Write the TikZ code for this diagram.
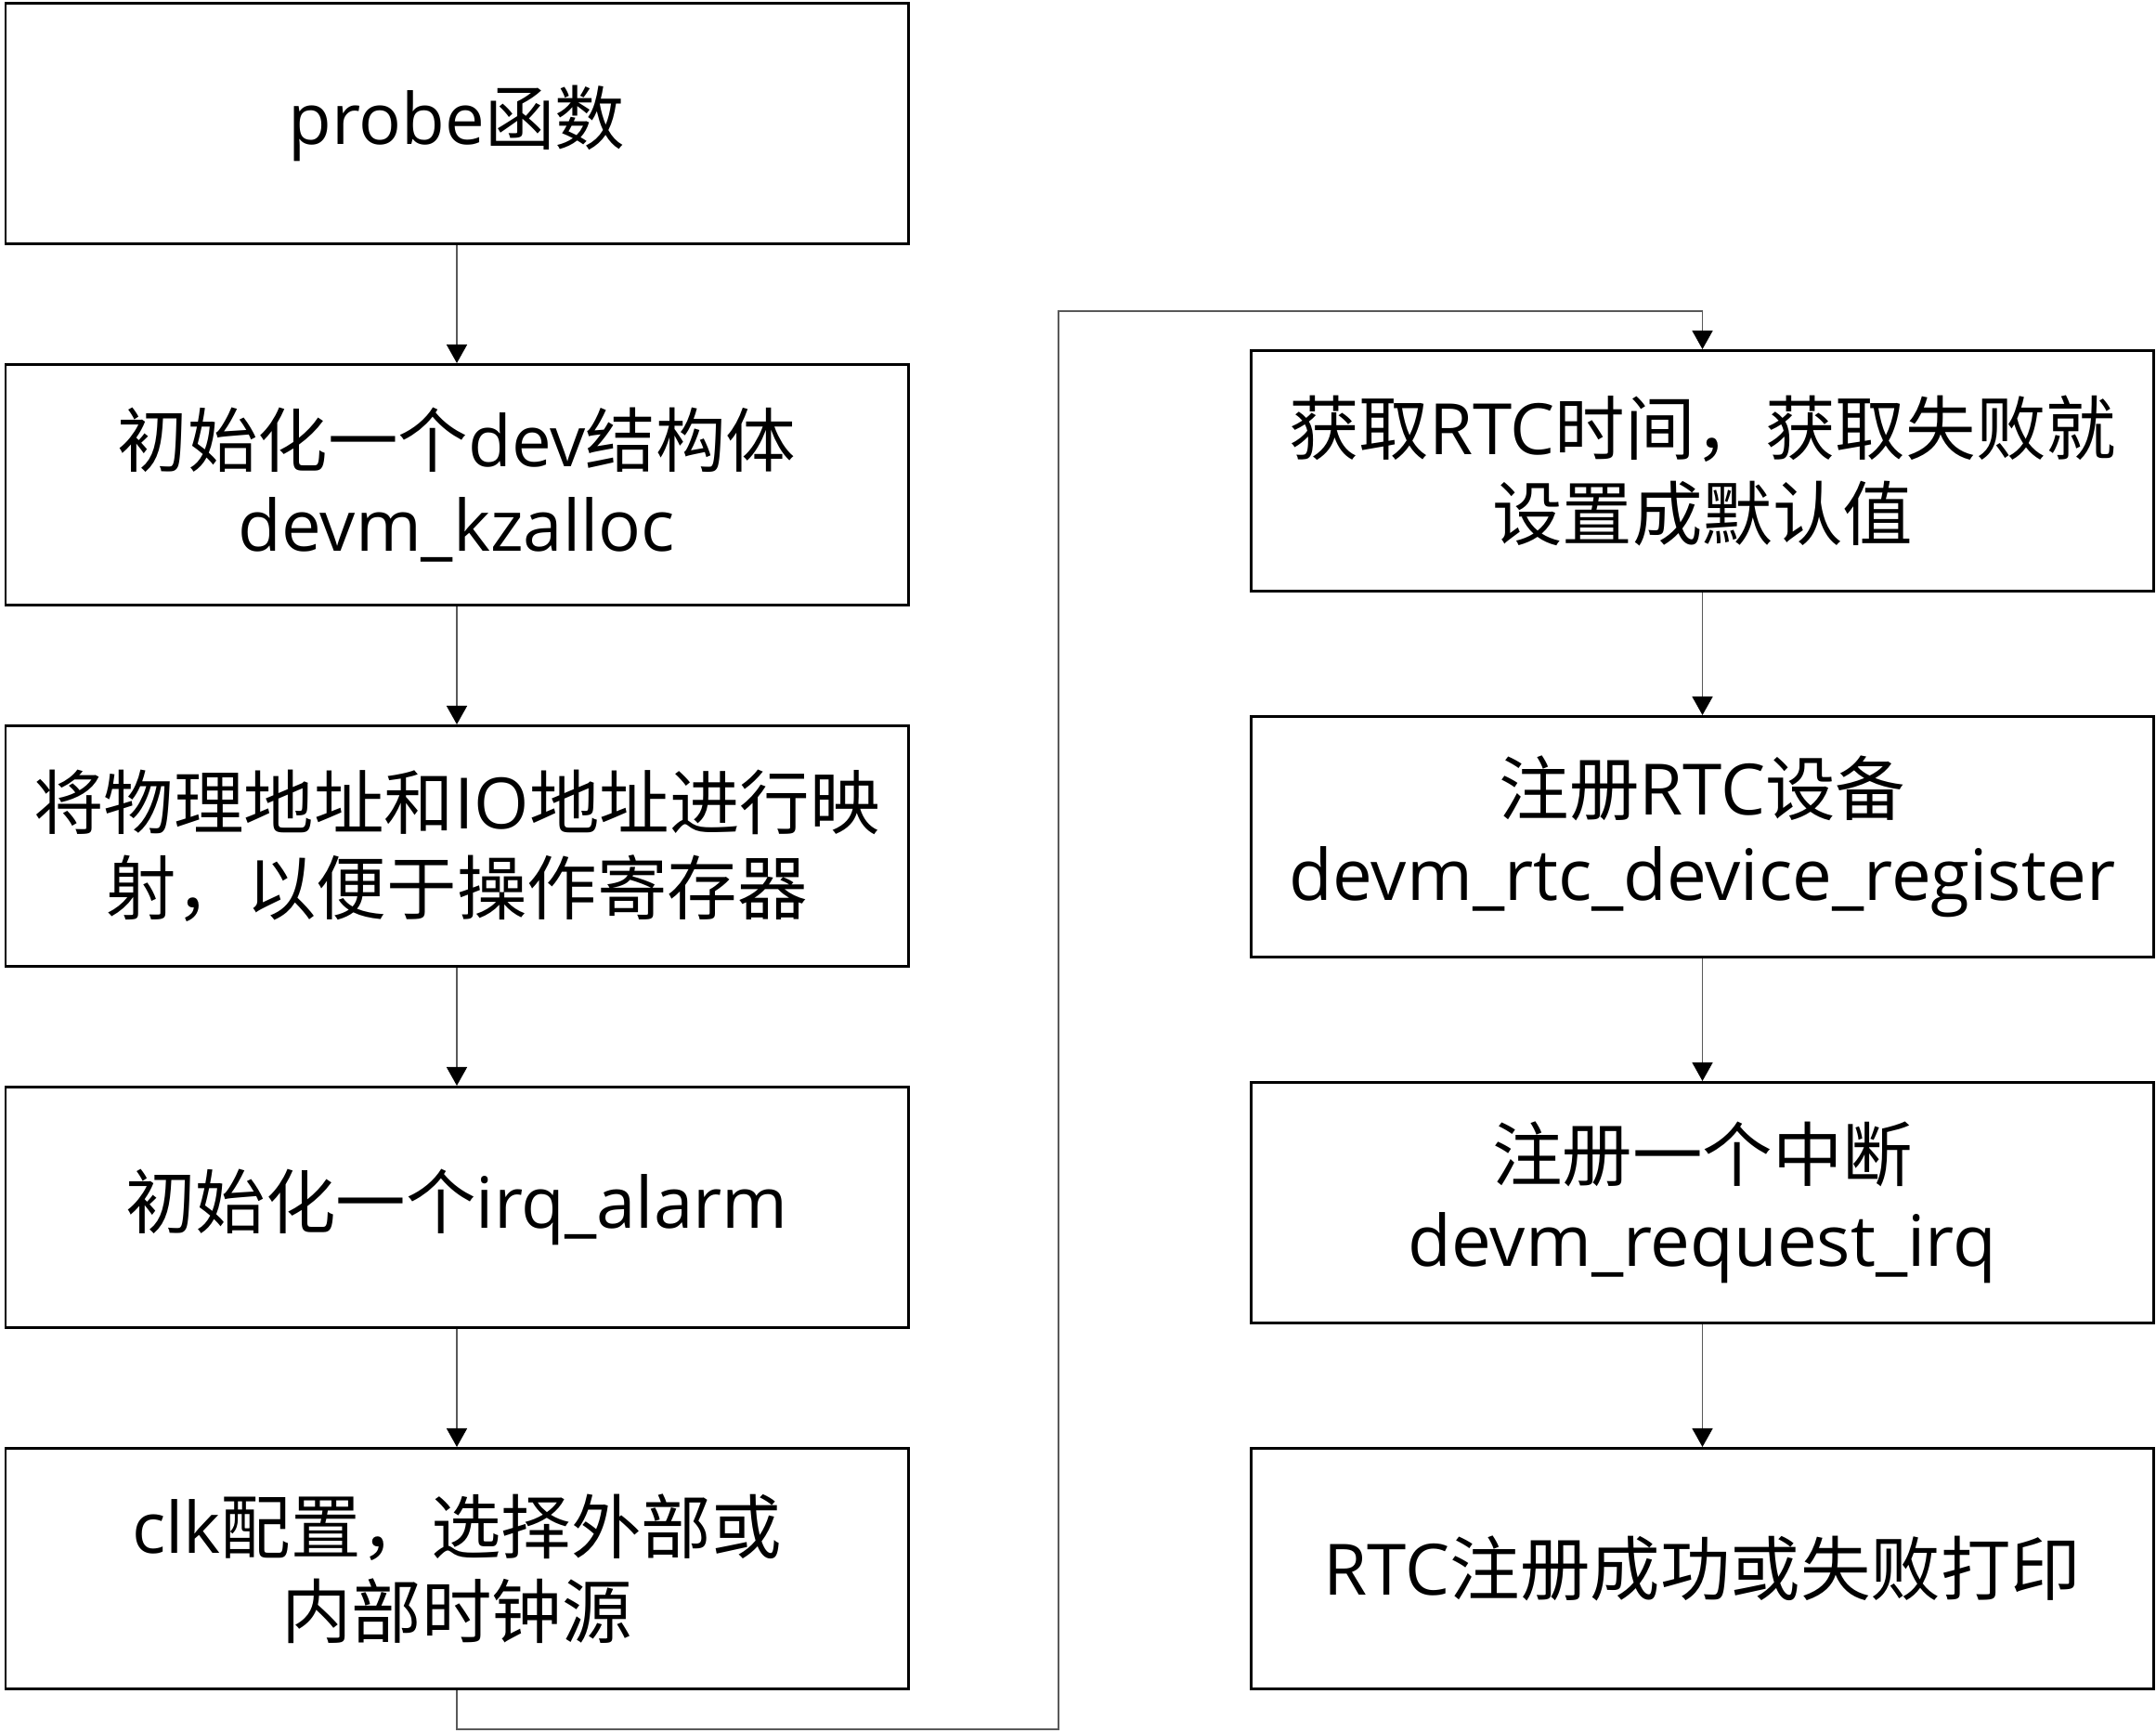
\documentclass[tikz,border=0pt]{standalone}
\usepackage{fontspec}
\setmainfont{Open Sans}
\newfontfamily\cjkfont[Scale=0.99]{Noto Sans CJK SC}
\newcommand{\zh}[1]{{\cjkfont #1}}
\usetikzlibrary{positioning,arrows.meta}

\begin{document}
\begin{tikzpicture}[
    node distance=1.27cm,
    box/.style={draw, line width=0.85pt, align=center, minimum width=9.72cm, minimum height=2.59cm, inner sep=0pt, font=\fontsize{21.7}{26}\selectfont},
    link/.style={draw=black!65, line width=0.45pt, -{Triangle[width=0.22cm, length=0.2cm, color=black]}}
]
\useasboundingbox (0,0) rectangle (23.22,-18.66);

\node[box] (probe) at (4.92,-1.33) {probe\zh{函数}};
\node[box, below=of probe] (kzalloc) {\zh{初始化一个}dev\zh{结构体}\\devm\_kzalloc};
\node[box, below=of kzalloc] (ioremap) {\zh{将物理地址和}IO\zh{地址进行映}\\\zh{射，以便于操作寄存器}};
\node[box, below=of ioremap] (alarm) {\zh{初始化一个}irq\_alarm};
\node[box, below=of alarm] (clk) {clk\zh{配置，选择外部或}\\\zh{内部时钟源}};

\node[box] (gettime) at (18.335,-5.07) {\zh{获取}RTC\zh{时间，获取失败就}\\\zh{设置成默认值}};
\node[box, below=1.32cm of gettime] (rtcreg) {\zh{注册}RTC\zh{设备}\\devm\_rtc\_device\_register};
\node[box, below=1.32cm of rtcreg] (irqreg) {\zh{注册一个中断}\\devm\_request\_irq};
\node[box, below=1.32cm of irqreg] (result) {RTC\zh{注册成功或失败打印}};

\draw[link] (probe) -- (kzalloc);
\draw[link] (kzalloc) -- (ioremap);
\draw[link] (ioremap) -- (alarm);
\draw[link] (alarm) -- (clk);

% wrap round to the second column
\coordinate (turnlow) at (11.40,-18.62);
\coordinate (turnhigh) at (11.40,-3.35);
\draw[link] (clk.south) |- (turnlow) -- (turnhigh) -| (gettime.north);

\draw[link] (gettime) -- (rtcreg);
\draw[link] (rtcreg) -- (irqreg);
\draw[link] (irqreg) -- (result);

\end{tikzpicture}
\end{document}
